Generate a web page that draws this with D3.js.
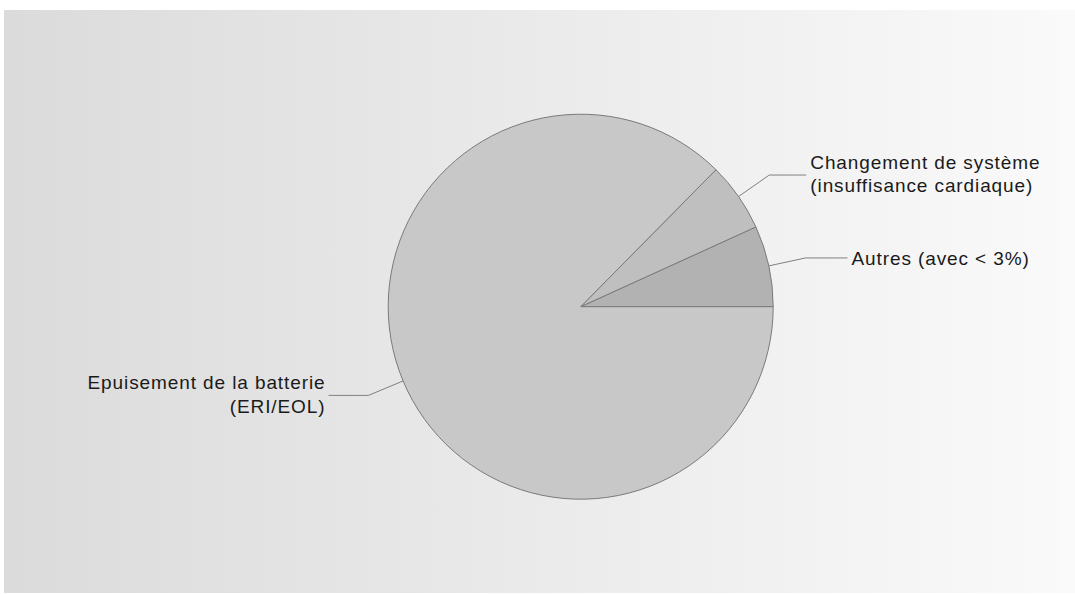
<!DOCTYPE html>
<html><head><meta charset="utf-8">
<script src="https://cdn.jsdelivr.net/npm/d3@7"></script>
<style>html,body{margin:0;padding:0;background:#fff;}svg{display:block;}</style>
</head><body>
<script>
const labels = [["Autres (avec < 3%)"], ["Changement de système", "(insuffisance cardiaque)"], ["Epuisement de la batterie", "(ERI/EOL)"]];
const values = [6.8, 5.8, 87.4];
const colors = ["#b2b2b2", "#bfbfbf", "#c8c8c8"];

const W = 1075, H = 594;
const svg = d3.select("body").append("svg").attr("width", W).attr("height", H);
const defs = svg.append("defs");
const grad = defs.append("linearGradient").attr("id", "bg").attr("x1", 0).attr("x2", 1).attr("y1", 0).attr("y2", 0);
grad.append("stop").attr("offset", 0).attr("stop-color", "#dbdbdb");
grad.append("stop").attr("offset", 1).attr("stop-color", "#fafafa");
svg.append("rect").attr("x", 4).attr("y", 10).attr("width", W - 4).attr("height", 583).attr("fill", "url(#bg)");

const cx = 580.7, cy = 306.7, R = 192.5, Relbow = 230;
const pie = d3.pie().sort(null).startAngle(Math.PI / 2).endAngle(Math.PI / 2 - 2 * Math.PI);
const arcs = pie(values);
const arc = d3.arc().innerRadius(0).outerRadius(R);
const g = svg.append("g").attr("transform", `translate(${cx},${cy})`);
g.selectAll("path.slice").data(arcs).join("path").attr("class", "slice")
  .attr("d", arc).attr("fill", (d, i) => colors[i])
  .attr("stroke", "#7a7a7a").attr("stroke-width", 1).attr("stroke-linejoin", "round");

const hLen = [42, 37, 40];
arcs.forEach((d, i) => {
  const a = (d.startAngle + d.endAngle) / 2;
  const p0 = [R * Math.sin(a), -R * Math.cos(a)];
  const p1 = [Relbow * Math.sin(a), -Relbow * Math.cos(a)];
  const right = p1[0] > 0;
  const p2 = [p1[0] + (right ? hLen[i] : -hLen[i]), p1[1]];
  g.append("polyline").attr("points", [p0, p1, p2].map(p => p.join(",")).join(" "))
    .attr("fill", "none").attr("stroke", "#808080").attr("stroke-width", 1);
  const lines = labels[i];
  const n = lines.length;
  const t = g.append("text")
    .attr("x", p2[0] + (right ? 4 : -3)).attr("y", p2[1])
    .attr("text-anchor", right ? "start" : "end")
    .attr("font-family", "Liberation Sans, Arial, sans-serif")
    .attr("font-size", 19).attr("letter-spacing", 0.9).attr("fill", "#1a1a1a");
  lines.forEach((s, j) => {
    t.append("tspan").attr("x", p2[0] + (right ? 4 : -3))
      .attr("y", p2[1] + (j - (n - 1) / 2) * 23.5 + (n === 1 ? 7.5 : 5.5)).text(s);
  });
});
</script>
</body></html>
